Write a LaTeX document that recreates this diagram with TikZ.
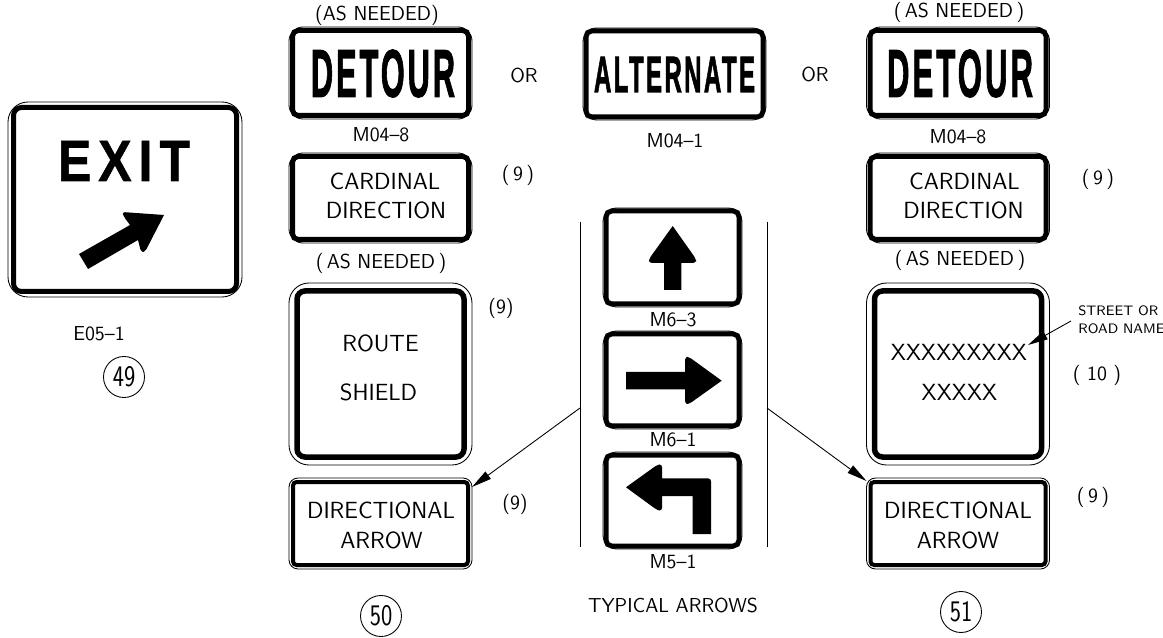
\documentclass[tikz,border=0pt]{standalone}
\usepackage{fontspec}
\usetikzlibrary{arrows.meta,calc}
\newfontfamily\cadfont{Latin Modern Sans}
\newfontfamily\signfont[LetterSpace=10,FakeBold=2]{Liberation Sans}
\newfontfamily\exitfont[LetterSpace=14,FakeBold=1]{Liberation Sans}
\definecolor{SignClr}{rgb}{0,0,0}
\newlength{\pxunit}
\setlength{\pxunit}{.02cm}

\tikzset{
  outerpanel/.style={draw=SignClr,line width=.5pt,inner sep=0pt,outer sep=0pt},
  signword/.style={inner sep=0pt,outer sep=0pt},
  biglabel/.style={inner sep=0pt,font=\cadfont\fontsize{13.3}{15}\selectfont},
  midlabel/.style={inner sep=0pt,font=\cadfont\fontsize{11.5}{12}\selectfont},
  smalllabel/.style={inner sep=0pt,font=\cadfont\fontsize{7.8}{10}\selectfont},
  tagcircle/.style={draw=SignClr,circle,line width=.5pt,minimum size=.82cm,inner sep=0pt,font=\cadfont\fontsize{17}{17}\selectfont},
  leader/.style={line width=.5pt,-{Triangle[length=.4cm,width=.18cm]}},
  glyph/.style={fill=SignClr}
}

% name, centre x, centre y, width, height, corner radius, band inset, band width
\newcommand{\SignPanel}[8]{
  \node[outerpanel,rounded corners=#6\pxunit,minimum width=#4\pxunit,minimum height=#5\pxunit] (#1) at (#2,#3) {};
  \draw[line width=#8\pxunit,rounded corners=.4*#6\pxunit]
    ([xshift=#7\pxunit,yshift=#7\pxunit]#1.south west) rectangle ([xshift=-#7\pxunit,yshift=-#7\pxunit]#1.north east);
}
% name, centre x, centre y, width, height, text
\newcommand{\SignWord}[6]{
  \node[signword] (#1) at (#2,#3) {\resizebox{#4\pxunit}{#5\pxunit}{#6}};
}

\begin{document}
\begin{tikzpicture}[x=.02cm,y=-.02cm]
\useasboundingbox (0,0) rectangle (1163,638);

% exit panel
\SignPanel{exitP}{125}{199.5}{234}{195}{20}{5.5}{5}
\SignWord{exitW}{124}{161}{132}{40}{\exitfont\bfseries EXIT}
\fill[glyph] (79,254) -- (88,269) -- (138,240) [rounded corners=.06cm] -- (141,252) -- (145,252) [sharp corners] -- (164,215) [rounded corners=.06cm] -- (122,212) -- (124,217) [sharp corners] -- (130,225) -- cycle;
\node[midlabel] (exitNo) at (99,334) {E05–1};
\node[tagcircle] (tag49) at (124,377) {\scalebox{.8}[1]{49}};

% left column
\node[midlabel] (needA) at (377,15) {(AS NEEDED)};
\SignPanel{detourL}{380.5}{73}{183}{92}{14}{3.5}{5}
\SignWord{detourLW}{383}{73.5}{144}{47}{\signfont\bfseries DETOUR}
\node[midlabel] (codeA) at (381,135) {M04–8};
\node[midlabel] (orA) at (524,75) {OR};
\SignPanel{cardL}{380.5}{198}{183}{90}{14}{3.5}{5}
\node[biglabel] (cardLa) at (385,181.5) {CARDINAL};
\node[biglabel] (cardLb) at (386,210.5) {DIRECTION};
\node[midlabel] (nineA) at (518,175) {(\,9\,)};
\node[midlabel] (needB) at (381,263) {(\,AS NEEDED\,)};
\SignPanel{routeP}{380.5}{374}{183}{182}{20}{8}{5.5}
\node[biglabel] (routeA) at (380.5,343) {ROUTE};
\node[biglabel] (routeB) at (378.5,392) {SHIELD};
\node[midlabel] (nineB) at (501,308) {(9)};
\SignPanel{dirL}{380.5}{523.5}{183}{91}{9}{4}{4}
\node[biglabel] (dirLa) at (381,510.5) {DIRECTIONAL};
\node[biglabel] (dirLb) at (381.5,540.5) {ARROW};
\node[midlabel] (nineC) at (515,504) {(9)};
\node[tagcircle] (tag50) at (381,616) {\scalebox{.8}[1]{50}};

% centre column
\SignPanel{altP}{674.5}{74}{183}{92}{14}{3}{5}
\SignWord{altW}{674.5}{74.5}{161}{35}{\signfont\bfseries ALTERNATE}
\node[midlabel] (codeB) at (675,141) {M04–1};
\coordinate (lineLa) at (580,222);
\coordinate (lineLb) at (580,547);
\coordinate (lineRa) at (767,222);
\coordinate (lineRb) at (767,547);
\draw[line width=.5pt] (lineLa) -- (lineLb);
\draw[line width=.5pt] (lineRa) -- (lineRb);
\SignPanel{upP}{672.5}{257.5}{139}{99}{14}{3}{5}
\SignPanel{rightP}{672.5}{380}{139}{98}{14}{3}{5}
\SignPanel{turnP}{672.5}{500.5}{139}{97}{14}{3}{5}
\fill[glyph] (664,290) -- (664,263) [rounded corners=.06cm] -- (649,263) -- (649,259) [sharp corners] -- (672.7,226) [rounded corners=.06cm] -- (696,259) -- (696,263) [sharp corners] -- (681.3,263) -- (681.3,290) -- cycle;
\fill[glyph] (626,372) -- (685,372) [rounded corners=.06cm] -- (685,357) -- (689,357) [sharp corners] -- (721.7,380.7) [rounded corners=.06cm] -- (689,404) -- (685,404) [sharp corners] -- (685,389.3) -- (626,389.3) -- cycle;
\fill[glyph] (692.7,534) -- (692.7,496) -- (662,496) [rounded corners=.06cm] -- (662,511) -- (657,510) [sharp corners] -- (626,487.3) [rounded corners=.06cm] -- (657,465) -- (662,464) [sharp corners] -- (662,478.3) [rounded corners=.06cm] -- (711,478.3) [sharp corners] -- (711,534) -- cycle;
\node[midlabel] (codeC) at (673,320) {M6–3};
\node[midlabel] (codeD) at (673,440) {M6–1};
\node[midlabel] (codeE) at (673,562) {M5–1};
\node[midlabel] (typical) at (673,605) {TYPICAL ARROWS};

% right column
\node[midlabel] (needC) at (959,12) {(\,AS NEEDED\,)};
\SignPanel{detourR}{958}{73}{183}{92}{14}{3.5}{5}
\SignWord{detourRW}{960}{73.5}{146}{47}{\signfont\bfseries DETOUR}
\node[midlabel] (codeF) at (958,137) {M04–8};
\node[midlabel] (orB) at (815,74) {OR};
\SignPanel{cardR}{958}{198}{183}{90}{14}{3.5}{5}
\node[biglabel] (cardRa) at (964.5,181.5) {CARDINAL};
\node[biglabel] (cardRb) at (963.5,210.5) {DIRECTION};
\node[midlabel] (nineD) at (1098,179) {(\,9\,)};
\node[midlabel] (needD) at (960,260) {(\,AS NEEDED\,)};
\SignPanel{streetP}{958}{374}{183}{182}{20}{8}{5.5}
\node[biglabel] (streetA) at (959,352.5) {XXXXXXXXX};
\node[biglabel] (streetB) at (959.5,392) {XXXXX};
\node[midlabel] (tenA) at (1097,375) {( 10 )};
\node[smalllabel,anchor=west] (noteA) at (1078,310.5) {STREET OR};
\node[smalllabel,anchor=west] (noteB) at (1078,328.5) {ROAD NAME};
\SignPanel{dirR}{958}{523.5}{183}{91}{9}{4}{4}
\node[biglabel] (dirRa) at (958,510.5) {DIRECTIONAL};
\node[biglabel] (dirRb) at (958,540.5) {ARROW};
\node[midlabel] (nineE) at (1093,497) {(\,9\,)};
\node[tagcircle] (tag51) at (961,612) {\scalebox{.8}[1]{51}};

% leaders
\coordinate (noteEnd) at (1071,321);
\coordinate (streetTip) at (1028,345);
\coordinate (lineLd) at (580,408);
\coordinate (lineRd) at (767,408);
\draw[leader] (noteEnd) -- (streetTip);
\draw[leader] (lineLd) -- ([yshift=-.18cm]dirL.north east);
\draw[leader] (lineRd) -- ([yshift=-.06cm]dirR.north west);

\end{tikzpicture}
\end{document}
